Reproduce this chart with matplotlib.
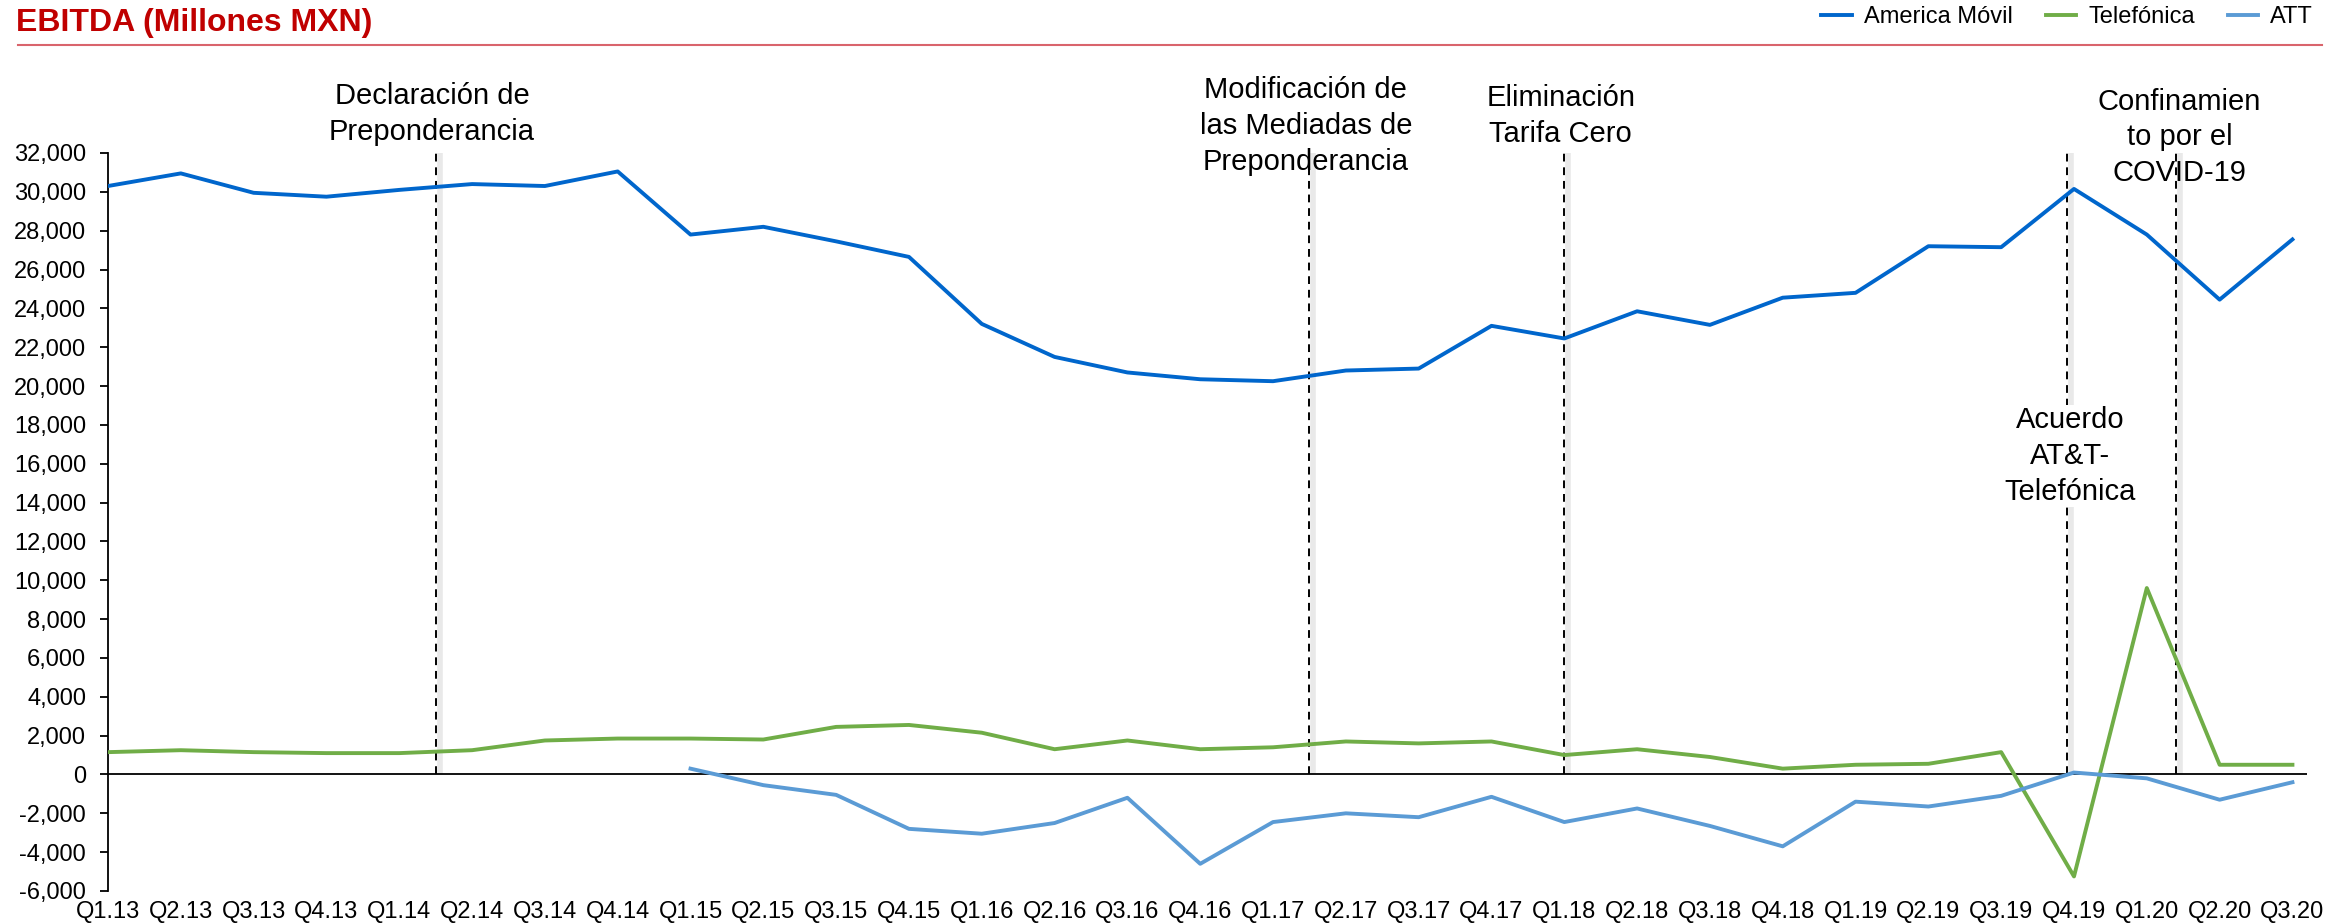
import matplotlib
matplotlib.use("Agg")
import matplotlib.pyplot as plt
import matplotlib.transforms as mtransforms
from matplotlib.lines import Line2D
from matplotlib.ticker import FuncFormatter, MultipleLocator
import numpy as np

plt.rcParams['font.family'] = ['Liberation Sans', 'DejaVu Sans']

quarters = ["Q1.13", "Q2.13", "Q3.13", "Q4.13", "Q1.14", "Q2.14", "Q3.14", "Q4.14",
            "Q1.15", "Q2.15", "Q3.15", "Q4.15", "Q1.16", "Q2.16", "Q3.16", "Q4.16",
            "Q1.17", "Q2.17", "Q3.17", "Q4.17", "Q1.18", "Q2.18", "Q3.18", "Q4.18",
            "Q1.19", "Q2.19", "Q3.19", "Q4.19", "Q1.20", "Q2.20", "Q3.20"]

america_movil = [30300, 30950, 29950, 29750, 30100, 30400, 30300, 31050,
                 27800, 28200, 27450, 26650, 23200, 21500, 20700, 20350,
                 20250, 20800, 20900, 23100, 22450, 23850, 23150, 24550,
                 24800, 27200, 27150, 30150, 27800, 24450, 27550]

telefonica = [1150, 1250, 1150, 1100, 1100, 1250, 1750, 1850,
              1850, 1800, 2450, 2550, 2150, 1300, 1750, 1300,
              1400, 1700, 1600, 1700, 1000, 1300, 900, 300,
              500, 550, 1150, -5250, 9600, 500, 500]

att = [np.nan] * 8 + [300, -550, -1050, -2800, -3050, -2500, -1200, -4600,
                      -2450, -2000, -2200, -1150, -2450, -1750, -2650, -3700,
                      -1400, -1650, -1100, 100, -200, -1300, -400]

# eventos: posicion de la linea, texto, posicion del texto
event_x = [4.5, 16.5, 20.0, 26.9, 28.4]
event_labels = ["Declaración de\nPreponderancia",
                "Modificación de\nlas Mediadas de\nPreponderancia",
                "Eliminación\nTarifa Cero",
                "Acuerdo\nAT&T-\nTelefónica",
                "Confinamien\nto por el\nCOVID-19"]
label_xy = [(4.45, 34000), (16.45, 33400), (19.95, 33900), (26.95, 16400), (28.45, 32800)]

fig = plt.figure(figsize=(23.51, 9.24), dpi=100)
ax = fig.add_axes([108 / 2351, 33 / 924, (2307 - 108) / 2351, (891 - 153) / 924])

x = np.arange(len(quarters))

# lineas de eventos con una sombra suave
shadow = mtransforms.offset_copy(ax.transData, fig=fig, x=4, y=0, units='dots')
ax.vlines(event_x, 0, 32000, colors='#e9e9e9', linewidth=4, transform=shadow, zorder=1)
ax.vlines(event_x, 0, 32000, colors='black', linewidth=1.4,
          linestyles=(0, (4, 3)), zorder=2)

ax.axhline(0, color='black', linewidth=1.3, zorder=2)

ax.plot(x, america_movil, color='#0066CC', linewidth=2.8, label='America Móvil', zorder=3)
ax.plot(x, telefonica, color='#70AD47', linewidth=2.8, label='Telefónica', zorder=3)
ax.plot(x, att, color='#5B9BD5', linewidth=2.8, label='ATT', zorder=3)

for (tx, ty), txt in zip(label_xy, event_labels):
    box = None
    if txt.startswith("Acuerdo"):
        box = dict(facecolor='white', edgecolor='none', pad=1)
    ax.text(tx, ty, txt, ha='center', va='center', fontsize=21,
            linespacing=1.35, bbox=box, zorder=5)

ax.set_xlim(0, 30.2)
ax.set_ylim(-6000, 32000)
ax.yaxis.set_major_locator(MultipleLocator(2000))
ax.yaxis.set_major_formatter(FuncFormatter(lambda v, p: f"{int(v):,}"))
ax.set_xticks(x)
ax.set_xticklabels(quarters)

for s in ['top', 'right', 'bottom']:
    ax.spines[s].set_visible(False)
ax.spines['left'].set_linewidth(1.3)
ax.tick_params(axis='y', length=5.8, width=1.3, labelsize=17, pad=10)
ax.tick_params(axis='x', length=0, labelsize=17, pad=7)

# encabezado
fig.text(16 / 2351, 1 - 23 / 924, "EBITDA (Millones MXN)", fontsize=23,
         fontweight='bold', color='#C00000', va='center', ha='left')
fig.add_artist(Line2D([18 / 2351, 2322 / 2351], [1 - 45 / 924, 1 - 45 / 924],
                      color='#D9646C', linewidth=1.5, transform=fig.transFigure))

fig.legend(loc='center right', bbox_to_anchor=(2313 / 2351, 1 - 17 / 924),
           ncol=3, frameon=False, fontsize=17, handlelength=1.3,
           columnspacing=1.4, handletextpad=0.5, borderaxespad=0, borderpad=0)

fig.savefig('out.png', dpi=100)
